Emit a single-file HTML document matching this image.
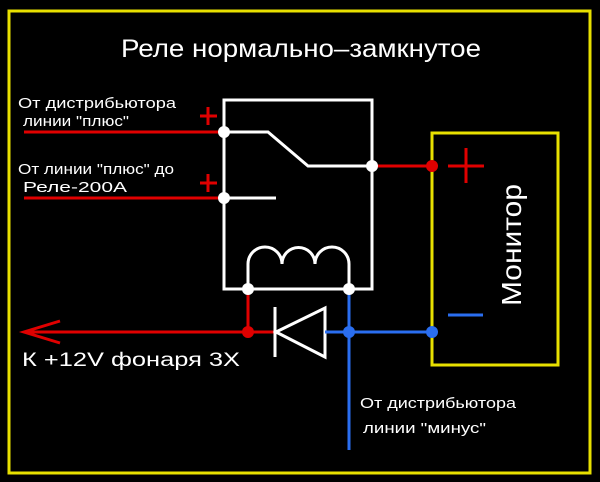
<!DOCTYPE html>
<html><head><meta charset="utf-8"><style>
html,body{margin:0;padding:0;background:#000;}
svg{display:block;}
text{font-family:"Liberation Sans",sans-serif;fill:#fff;}
</style></head><body>
<svg width="600" height="482" viewBox="0 0 600 482" xmlns="http://www.w3.org/2000/svg">
<rect x="0" y="0" width="600" height="482" fill="#000"/>
<rect x="9" y="11" width="581" height="462" fill="none" stroke="#e8e000" stroke-width="3"/>
<text x="121" y="57" font-size="25" textLength="360" lengthAdjust="spacingAndGlyphs">Реле нормально–замкнутое</text>

<!-- red inputs -->
<g stroke="#e00000" stroke-width="3" fill="none">
<line x1="24" y1="132" x2="224" y2="132"/>
<line x1="24" y1="198" x2="224" y2="198"/>
<line x1="200" y1="116" x2="217" y2="116"/><line x1="208" y1="107" x2="208" y2="125"/>
<line x1="200" y1="183" x2="217" y2="183"/><line x1="208" y1="174" x2="208" y2="192"/>
<line x1="372" y1="166" x2="432" y2="166"/>
<line x1="448" y1="166" x2="484" y2="166"/><line x1="466" y1="148" x2="466" y2="183"/>
<line x1="248" y1="289" x2="248" y2="332"/>
<line x1="24" y1="332" x2="275" y2="332"/>
<polyline points="60,321 24,332 60,343"/>
</g>
<text x="18" y="108" font-size="14.5" textLength="158" lengthAdjust="spacingAndGlyphs">От дистрибьютора</text>
<text x="23" y="126" font-size="14.5" textLength="106" lengthAdjust="spacingAndGlyphs">линии "плюс"</text>
<text x="18" y="174" font-size="14.5" textLength="156" lengthAdjust="spacingAndGlyphs">От линии "плюс" до</text>
<text x="23" y="192" font-size="14.5" textLength="104" lengthAdjust="spacingAndGlyphs">Реле-200А</text>
<text x="22" y="366" font-size="19" textLength="218" lengthAdjust="spacingAndGlyphs">К +12V фонаря 3Х</text>

<!-- relay -->
<g stroke="#fff" stroke-width="3" fill="none">
<rect x="224" y="100" width="148" height="189"/>
<polyline points="224,132 268,132 308,166 372,166"/>
<line x1="224" y1="198" x2="276" y2="198"/>
<path d="M248,289 V264 A17,17 0 0 1 282,264 A16.5,16.5 0 0 1 315,264 A17,17 0 0 1 349,264 V289"/>
<line x1="275" y1="307" x2="275" y2="357"/>
<polygon points="276,332 325,308 325,357"/>
</g>

<!-- blue -->
<g stroke="#2a6ef0" stroke-width="3" fill="none">
<line x1="349" y1="289" x2="349" y2="450"/>
<line x1="325" y1="332" x2="432" y2="332"/>
<line x1="448" y1="315" x2="483" y2="315"/>
</g>
<text x="360" y="408" font-size="14.5" textLength="156" lengthAdjust="spacingAndGlyphs">От дистрибьютора</text>
<text x="363" y="433" font-size="14.5" textLength="123" lengthAdjust="spacingAndGlyphs">линии "минус"</text>

<!-- monitor -->
<rect x="432" y="133" width="126" height="232" fill="none" stroke="#e8e000" stroke-width="3"/>
<text transform="translate(521,306) rotate(-90)" font-size="28" textLength="122" lengthAdjust="spacingAndGlyphs">Монитор</text>

<!-- dots -->
<g fill="#fff">
<circle cx="224" cy="132" r="6"/><circle cx="224" cy="198" r="6"/>
<circle cx="372" cy="166" r="6"/><circle cx="248" cy="289" r="6"/><circle cx="349" cy="289" r="6"/>
</g>
<circle cx="432" cy="166" r="6" fill="#e00000"/>
<circle cx="248" cy="332" r="6" fill="#e00000"/>
<circle cx="349" cy="332" r="6" fill="#2a6ef0"/>
<circle cx="432" cy="332" r="6" fill="#2a6ef0"/>
</svg>
</body></html>
